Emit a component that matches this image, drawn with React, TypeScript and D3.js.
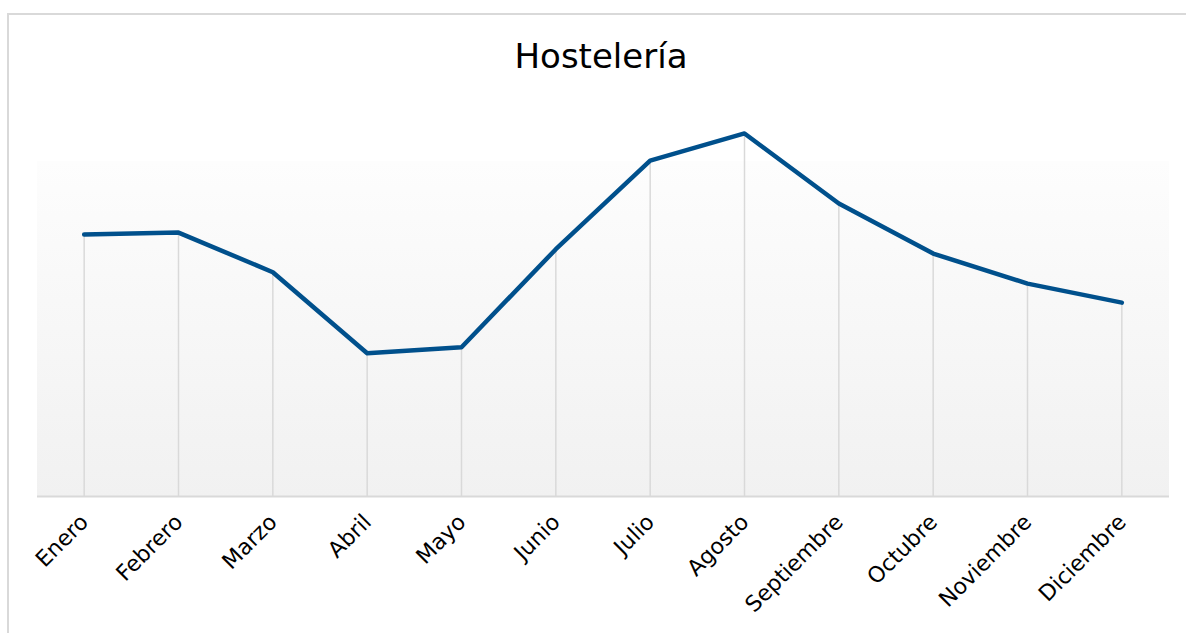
import React from "react";
import * as d3 from "d3";

const months = ["Enero", "Febrero", "Marzo", "Abril", "Mayo", "Junio", "Julio", "Agosto", "Septiembre", "Octubre", "Noviembre", "Diciembre"];
const values = [1308, 1318, 1120, 715, 745, 1235, 1677, 1813, 1463, 1213, 1063, 968];
const title = "Hostelería";

const W = 1186;
const H = 633;
const plot = { left: 37, right: 1169, top: 96, bottom: 496.5 };
const FONT = "'DejaVu Sans', sans-serif";

export default function App() {
  const x = d3.scaleBand<string>().domain(months).range([plot.left, plot.right]);
  const y = d3.scaleLinear().domain([0, 2000]).range([plot.bottom, plot.top]);
  const cx = (m: string) => (x(m) as number) + x.bandwidth() / 2;
  const line = d3
    .line<number>()
    .x((_, i) => cx(months[i]))
    .y((d) => y(d));

  return (
    <svg
      width={W}
      height={H}
      style={{ position: "absolute", left: 0, top: 0, background: "#fff" }}
    >
      <defs>
        <linearGradient id="bg" x1="0" y1="0" x2="0" y2="1">
          <stop offset="0" stopColor="#fdfdfd" />
          <stop offset="1" stopColor="#f1f1f1" />
        </linearGradient>
      </defs>
      <rect x={8} y={14} width={1200} height={640} fill="#fff" stroke="#d9d9d9" strokeWidth={2} />
      <rect x={plot.left} y={161} width={plot.right - plot.left} height={plot.bottom - 161} fill="url(#bg)" />
      <text x={601} y={68} textAnchor="middle" fontFamily={FONT} fontSize={34} fill="#000">
        {title}
      </text>
      {values.map((v, i) => (
        <line
          key={"d" + i}
          x1={cx(months[i])}
          x2={cx(months[i])}
          y1={y(v)}
          y2={plot.bottom}
          stroke="#d9d9d9"
          strokeWidth={1.5}
        />
      ))}
      <line x1={plot.left} x2={plot.right} y1={plot.bottom} y2={plot.bottom} stroke="#d9d9d9" strokeWidth={2} />
      <path d={line(values) || ""} fill="none" stroke="#00508c" strokeWidth={4.5} strokeLinejoin="round" strokeLinecap="round" />
      {months.map((m) => (
        <text
          key={m}
          transform={`translate(${cx(m)},${518}) rotate(-45)`}
          textAnchor="end"
          dy="0.35em"
          fontFamily={FONT}
          fontSize={22}
          fill="#000"
        >
          {m}
        </text>
      ))}
    </svg>
  );
}
